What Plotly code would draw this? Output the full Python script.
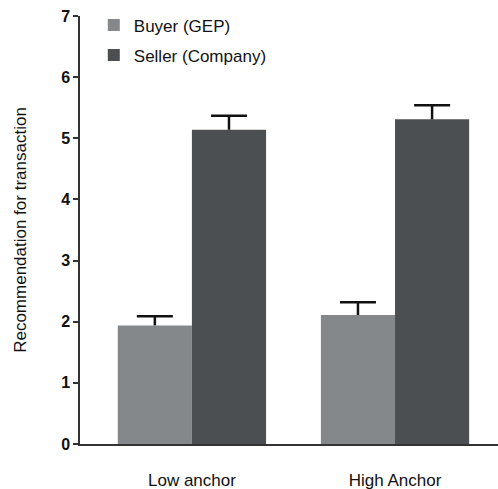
import plotly.graph_objects as go

categories = ["Low anchor", "High Anchor"]
buyer_vals = [1.94, 2.11]
buyer_err = [0.15, 0.21]
seller_vals = [5.14, 5.31]
seller_err = [0.23, 0.23]
y_ticks = [0, 1, 2, 3, 4, 5, 6, 7]

FONT = "Arial, Liberation Sans, sans-serif"
BUYER_COLOR = "#85888a"
SELLER_COLOR = "#4c4f51"
ERR_COLOR = "#111111"

fig = go.Figure()


def add_series(name, vals, errs, color, group):
    # visible bar with upward stem only (no caps)
    fig.add_trace(go.Bar(
        name=name, x=categories, y=vals, legendgroup=group, offsetgroup=group,
        marker=dict(color=color, line=dict(width=0)),
        error_y=dict(type="data", array=errs, arrayminus=[0] * len(errs), symmetric=False,
                     color=ERR_COLOR, thickness=2.5, width=0),
        hoverinfo="y",
    ))
    # invisible bar reaching the top of the error bar; a zero-length error bar draws only the cap
    fig.add_trace(go.Bar(
        name=name + " cap", x=categories, y=[v + e for v, e in zip(vals, errs)],
        legendgroup=group, offsetgroup=group, showlegend=False, hoverinfo="skip",
        marker=dict(color="rgba(0,0,0,0)", line=dict(width=0)),
        error_y=dict(type="constant", value=0, color=ERR_COLOR, thickness=2.5, width=18),
    ))


add_series("Buyer (GEP)", buyer_vals, buyer_err, BUYER_COLOR, "b")
add_series("Seller (Company)", seller_vals, seller_err, SELLER_COLOR, "s")

fig.update_layout(
    width=498, height=489,
    margin=dict(l=80, r=0, t=16, b=45),
    paper_bgcolor="white", plot_bgcolor="white",
    barmode="group", bargap=0.27, bargroupgap=0,
    font=dict(family=FONT, color="#111111"),
    showlegend=True,
    legend=dict(x=0.033, y=1.02, xanchor="left", yanchor="top",
                font=dict(size=17, family=FONT, color="#111111"),
                tracegroupgap=5, bgcolor="rgba(0,0,0,0)"),
    xaxis=dict(range=[-0.551, 1.507], showline=True, linecolor="#333333", linewidth=1.5,
               ticks="", tickfont=dict(size=17, family=FONT), ticklabelstandoff=20,
               showgrid=False, zeroline=False, fixedrange=True),
    yaxis=dict(range=[0, 7], tickvals=y_ticks, showline=True, linecolor="#333333",
               linewidth=1.5, ticks="outside", ticklen=5, tickwidth=1.5, tickcolor="#333333",
               tickfont=dict(size=16, family=FONT, weight="bold"), showgrid=False,
               zeroline=False,
               title=dict(text="Recommendation for transaction", font=dict(size=17, family=FONT),
                          standoff=30)),
)

fig.write_html("out.html")
